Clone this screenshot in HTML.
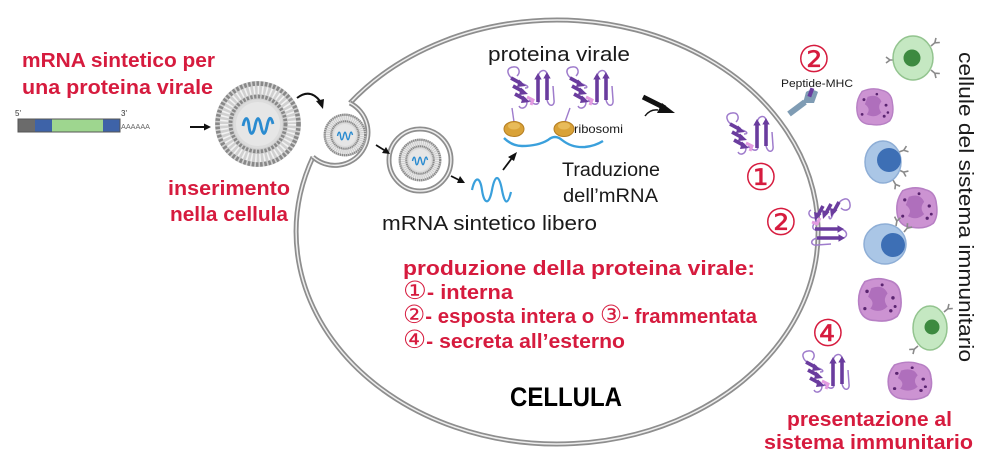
<!DOCTYPE html>
<html><head><meta charset="utf-8"><style>
html,body{margin:0;padding:0;background:#fff;}
svg{display:block;}
text{font-family:"Liberation Sans","DejaVu Sans",sans-serif;}
</style></head><body>
<svg width="1004" height="466" viewBox="0 0 1004 466" xmlns="http://www.w3.org/2000/svg">
<defs>
<g id="lipo">
 <circle r="43" fill="#d0d0d0"/>
 <circle r="40.5" fill="none" stroke="#888" stroke-width="4.5" stroke-dasharray="2.6 1.6"/>
 <circle r="34" fill="none" stroke="#f2f2f2" stroke-width="8" stroke-dasharray="1.6 2.6"/>
 <circle r="27.5" fill="none" stroke="#888" stroke-width="3.8" stroke-dasharray="2.4 1.4"/>
 <circle r="24.5" fill="#dcdcdc"/>
 <circle r="22" fill="#e6e6e6"/>
 <path d="M-15,2 c2,-10 5,-10 6,0 s4,10 6,0 s4,-10 6,0 s4,10 6,0 s4,-10 6,-2" fill="none" stroke="#2a8bd0" stroke-width="2.8"/>
</g>
<g id="prot">
 <path d="M10,14 C2,10 0,2 8,1 C14,0 16,6 12,10 M22,36 C22,42 16,44 14,40 M24,34 C28,38 32,40 34,36 M33,10 C35,3 41,3 42,8 M42,34 C44,42 50,40 49,34 L48,20 M18,18 C24,20 24,22 20,22" fill="none" stroke="#9f7ccc" stroke-width="1.5"/>
 <g stroke="#6a3c9e" stroke-width="3.6">
  <line x1="6" y1="12" x2="16" y2="17.5"/>
  <line x1="8" y1="20" x2="18" y2="25.5"/>
  <line x1="10" y1="28" x2="20" y2="33.5"/>
  <line x1="33" y1="36" x2="33" y2="13"/>
  <line x1="42" y1="34" x2="42" y2="12"/>
 </g>
 <g fill="#6a3c9e">
  <polygon points="14,13.5 21,20 12,21"/>
  <polygon points="16,21.5 23,28 14,29"/>
  <polygon points="18,29.5 25,36 16,37"/>
  <polygon points="33,7 29.3,13.5 36.7,13.5"/>
  <polygon points="42,6 38.3,12.5 45.7,12.5"/>
 </g>
 <path d="M22,31 l6,3 l-2,5" stroke="#e39be0" stroke-width="3" fill="none"/>
</g>
<g id="gran">
 <path d="M-14,-17 Q-2,-22 8,-18 Q18,-16 19,-4 Q21,8 16,15 Q8,21 -4,19 Q-16,19 -19,8 Q-22,-6 -14,-17 Z" fill="#cc93d2" stroke="#b77fc4" stroke-width="1.5"/>
 <path d="M-8,-11 Q3,-15 7,-6 Q2,0 7,6 Q0,13 -9,8 Q-4,2 -11,-3 Z" fill="#a866b6" opacity="0.8"/>
 <g fill="#5a2470">
  <circle cx="-12" cy="-8" r="1.6"/><circle cx="12" cy="-2" r="1.6"/><circle cx="10" cy="10" r="1.6"/>
  <circle cx="14" cy="6" r="1.4"/><circle cx="-14" cy="8" r="1.5"/><circle cx="2" cy="-14" r="1.4"/>
 </g>
</g>
<g id="rcp" fill="none" stroke="#8a8a8a" stroke-width="1.6">
 <path d="M0,0 L5,0 M5,0 L9,-3 M5,0 L9,3"/>
</g>
</defs>

<rect width="1004" height="466" fill="#fff"/>

<!-- cell membrane -->
<g fill="none">
 <path d="M350,103 A261,212 0 1 1 313,157" stroke="#8e8e8e" stroke-width="5"/>
 <path d="M350,103 A261,212 0 1 1 313,157" stroke="#eeeeee" stroke-width="1.5"/>
 <path d="M350,103 A33,33 0 1 1 313,157" stroke="#8e8e8e" stroke-width="5"/>
 <path d="M350,103 A33,33 0 1 1 313,157" stroke="#eeeeee" stroke-width="1.5"/>
 <circle cx="420" cy="160" r="31" stroke="#8e8e8e" stroke-width="5"/>
 <circle cx="420" cy="160" r="31" stroke="#eeeeee" stroke-width="1.5"/>
</g>

<!-- mRNA construct -->
<rect x="18" y="119" width="17" height="13" fill="#6b6b6b"/>
<rect x="35" y="119" width="17" height="13" fill="#3e63a8"/>
<rect x="52" y="119" width="51" height="13" fill="#9ed68f"/>
<rect x="103" y="119" width="17" height="13" fill="#3e63a8"/>
<rect x="18" y="119" width="102" height="13" fill="none" stroke="#555" stroke-width="1"/>
<text x="15" y="116" font-size="8" fill="#333">5'</text>
<text x="121" y="116" font-size="8" fill="#333">3'</text>
<text x="121" y="129" font-size="7" fill="#666" textLength="29" lengthAdjust="spacingAndGlyphs">AAAAAA</text>

<!-- liposomes -->
<use href="#lipo" transform="translate(258,124)"/>
<use href="#lipo" transform="translate(345,135) scale(0.5)"/>
<use href="#lipo" transform="translate(420,160) scale(0.5)"/>

<!-- arrows -->
<g stroke="#111" fill="#111">
 <line x1="190" y1="127" x2="205" y2="127" stroke-width="2"/>
 <polygon points="211,127 204,123.5 204,130.5" stroke="none"/>
 <path d="M297,98 Q310,88 320,101" fill="none" stroke-width="2"/>
 <polygon points="323,109 316,101 324,99" stroke="none"/>
 <line x1="376" y1="145" x2="384" y2="150" stroke-width="1.8"/>
 <polygon points="390,154 382,153 386,147" stroke="none"/>
 <line x1="451" y1="176" x2="459" y2="180" stroke-width="1.8"/>
 <polygon points="465,183 457,183 460,176" stroke="none"/>
 <line x1="503" y1="170" x2="512" y2="158" stroke-width="1.8"/>
 <polygon points="517,152 508,157 514,161" stroke="none"/>
 <line x1="643" y1="97" x2="665" y2="108" stroke-width="5"/>
 <polygon points="675,113 662,103 657,113" stroke="none"/>
 <path d="M645,116 Q650,109 658,110" fill="none" stroke-width="1.5"/>
</g>

<!-- free mRNA -->
<path d="M472,190 c3,-14 8,-14 10,0 s7,16 10,0 s7,-16 10,0 s6,14 9,2" fill="none" stroke="#3aa0dc" stroke-width="2.2"/>

<!-- ribosome mRNA -->
<path d="M504,138 Q512,146 522,146 Q538,146 548,140 Q555,134 562,140 Q572,148 585,147 Q595,146 603,141" fill="none" stroke="#3aa0dc" stroke-width="2.4"/>
<line x1="512" y1="108" x2="514" y2="122" stroke="#9f7ccc" stroke-width="1.4"/>
<line x1="570" y1="108" x2="565" y2="122" stroke="#9f7ccc" stroke-width="1.4"/>
<ellipse cx="514" cy="129" rx="10" ry="7.5" fill="#d9a238" stroke="#b57e22" stroke-width="1"/>
<ellipse cx="514" cy="126" rx="6" ry="3.5" fill="#e8bb5a"/>
<ellipse cx="564" cy="129" rx="10" ry="7.5" fill="#d9a238" stroke="#b57e22" stroke-width="1"/>
<ellipse cx="564" cy="126" rx="6" ry="3.5" fill="#e8bb5a"/>

<!-- proteins -->
<use href="#prot" transform="translate(505,66)"/>
<use href="#prot" transform="translate(564,66)"/>
<use href="#prot" transform="translate(724,112)"/>
<use href="#prot" transform="translate(851,196) rotate(90)"/>
<use href="#prot" transform="translate(800,350)"/>

<!-- MHC -->
<line x1="789" y1="114" x2="805" y2="102" stroke="#7f9cb4" stroke-width="6"/>
<path d="M803,103 L806,92 Q812,88 818,92 L814,103 Z" fill="#7f9cb4"/>
<rect x="809" y="88" width="4" height="9" fill="#6a3c9e" transform="rotate(20 811 92)"/>

<!-- immune cells -->
<use href="#rcp" transform="translate(931,46) rotate(-40)"/>
<use href="#rcp" transform="translate(931,70) rotate(40)"/>
<use href="#rcp" transform="translate(895,60) rotate(180)"/>
<ellipse cx="913" cy="58" rx="20" ry="22" fill="#c5e8c2" stroke="#93c48f" stroke-width="1.5"/>
<circle cx="912" cy="58" r="8.5" fill="#3d8a40"/>

<use href="#gran" transform="translate(875,107) scale(0.92)"/>

<use href="#rcp" transform="translate(899,152) rotate(-20)"/>
<use href="#rcp" transform="translate(899,170) rotate(25)"/>
<use href="#rcp" transform="translate(893,180) rotate(60)"/>
<ellipse cx="883" cy="162" rx="18" ry="21" fill="#aac6e6" stroke="#8eaed6" stroke-width="1.5"/>
<circle cx="889" cy="160" r="12" fill="#3d6fb5"/>

<use href="#gran" transform="translate(917,208) scale(1.02)"/>

<use href="#rcp" transform="translate(896,226) rotate(-80)"/>
<use href="#rcp" transform="translate(904,232) rotate(-50)"/>
<ellipse cx="885" cy="244" rx="21" ry="20" fill="#aac6e6" stroke="#8eaed6" stroke-width="1.5"/>
<circle cx="893" cy="245" r="12" fill="#3d6fb5"/>

<use href="#gran" transform="translate(880,300) scale(1.08)"/>

<use href="#rcp" transform="translate(944,312) rotate(-40)"/>
<use href="#rcp" transform="translate(918,346) rotate(140)"/>
<ellipse cx="930" cy="328" rx="17" ry="22" fill="#c5e8c2" stroke="#93c48f" stroke-width="1.5"/>
<circle cx="932" cy="327" r="7.5" fill="#3d8a40"/>

<use href="#gran" transform="translate(910,381) scale(1.1 0.95)"/>

<!-- texts -->
<g fill="#d61b3e" font-weight="bold" font-size="20.5">
 <text x="22" y="67" textLength="193" lengthAdjust="spacingAndGlyphs">mRNA sintetico per</text>
 <text x="22" y="94" textLength="191" lengthAdjust="spacingAndGlyphs">una proteina virale</text>
 <text x="168" y="195" textLength="122" lengthAdjust="spacingAndGlyphs">inserimento</text>
 <text x="170" y="221" textLength="118" lengthAdjust="spacingAndGlyphs">nella cellula</text>
 <text x="403" y="275" textLength="352" lengthAdjust="spacingAndGlyphs">produzione della proteina virale:</text>
 <text x="403" y="299" textLength="110" lengthAdjust="spacingAndGlyphs"><tspan font-size="25" font-weight="normal">①</tspan>- interna</text>
 <text x="403" y="323" textLength="354" lengthAdjust="spacingAndGlyphs"><tspan font-size="25" font-weight="normal">②</tspan>- esposta intera o <tspan font-size="25" font-weight="normal">③</tspan>- frammentata</text>
 <text x="403" y="348" textLength="222" lengthAdjust="spacingAndGlyphs"><tspan font-size="25" font-weight="normal">④</tspan>- secreta all’esterno</text>
 <text x="787" y="426" textLength="165" lengthAdjust="spacingAndGlyphs">presentazione al</text>
 <text x="764" y="449" textLength="209" lengthAdjust="spacingAndGlyphs">sistema immunitario</text>
</g>
<g fill="#d61b3e" font-size="37" font-family="'DejaVu Sans',sans-serif" text-anchor="middle">
 <text x="814" y="72">②</text>
 <text x="761" y="190">①</text>
 <text x="781" y="235">②</text>
 <text x="828" y="346">④</text>
</g>

<g fill="#1a1a1a">
 <text x="488" y="61" font-size="20" textLength="142" lengthAdjust="spacingAndGlyphs">proteina virale</text>
 <text x="574" y="133" font-size="12" textLength="49" lengthAdjust="spacingAndGlyphs">ribosomi</text>
 <text x="562" y="176" font-size="19" textLength="98" lengthAdjust="spacingAndGlyphs">Traduzione</text>
 <text x="563" y="202" font-size="19" textLength="95" lengthAdjust="spacingAndGlyphs">dell’mRNA</text>
 <text x="382" y="230" font-size="20" textLength="215" lengthAdjust="spacingAndGlyphs">mRNA sintetico libero</text>
 <text x="781" y="87" font-size="11" textLength="72" lengthAdjust="spacingAndGlyphs">Peptide-MHC</text>
 <text x="510" y="406" font-size="27" font-weight="bold" fill="#000" textLength="112" lengthAdjust="spacingAndGlyphs">CELLULA</text>
 <text x="0" y="0" font-size="20" transform="translate(959,52) rotate(90)" textLength="310" lengthAdjust="spacingAndGlyphs">cellule del sistema immunitario</text>
</g>
</svg>
</body></html>
